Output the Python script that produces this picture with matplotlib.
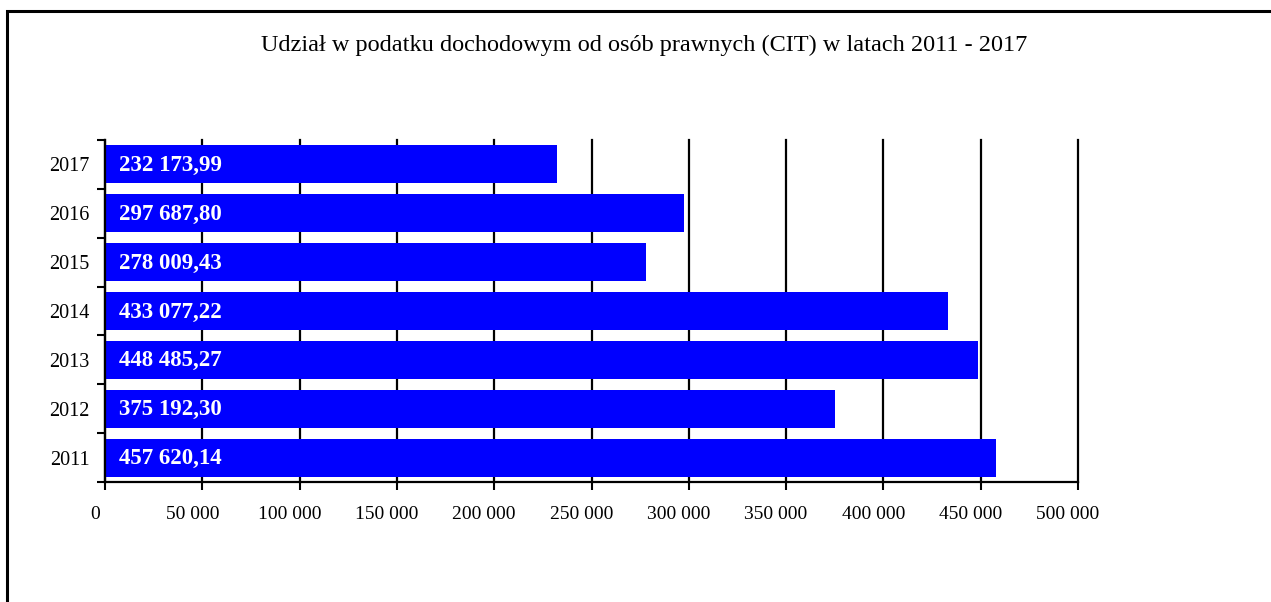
import matplotlib
matplotlib.use("Agg")
import matplotlib.pyplot as plt
import matplotlib.transforms as mtransforms
from matplotlib.patches import Rectangle
from matplotlib.ticker import FuncFormatter, FixedLocator
import numpy as np

years = ["2011", "2012", "2013", "2014", "2015", "2016", "2017"]
values = [457620.14, 375192.30, 448485.27, 433077.22, 278009.43, 297687.80, 232173.99]
value_labels = ["457 620,14", "375 192,30", "448 485,27", "433 077,22",
                "278 009,43", "297 687,80", "232 173,99"]
x_ticks = [0, 50000, 100000, 150000, 200000, 250000, 300000, 350000, 400000, 450000, 500000]
title = "Udział w podatku dochodowym od osób prawnych (CIT) w latach 2011 - 2017"

plt.rcParams['font.family'] = ['Liberation Serif', 'DejaVu Serif']

W, H = 1271, 602
fig = plt.figure(figsize=(W / 100, H / 100), dpi=100)
ax = fig.add_axes([105 / W, 1 - 482 / H, (1078 - 105) / W, (482 - 140) / H])

pos = np.arange(len(years))
ax.barh(pos, values, height=0.78, color="#0000FF", zorder=3)

ax.set_xlim(0, 500000)
ax.set_ylim(-0.5, len(years) - 0.5)

ax.xaxis.set_major_locator(FixedLocator(x_ticks))
ax.xaxis.set_major_formatter(FuncFormatter(lambda v, p: f"{int(v):,}".replace(",", " ")))
ax.grid(axis="x", color="black", linewidth=1.6, zorder=1)
for gl in ax.get_xgridlines():
    gl.set_clip_on(False)
ax.tick_params(axis="x", direction="out", length=6, width=1.5, pad=11, labelsize=14, colors="black")
off = mtransforms.ScaledTranslation(-10 / 100, 0, fig.dpi_scale_trans)
for lab in ax.get_xticklabels():
    lab.set_transform(lab.get_transform() + off)

ax.set_yticks(pos)
ax.set_yticklabels(years)
ax.set_yticks(np.arange(-0.5, len(years), 1.0), minor=True)
ax.tick_params(axis="y", which="major", length=0, pad=11, labelsize=14.5)
ax.tick_params(axis="y", which="minor", direction="out", length=6, width=1.5)

for s in ["top", "right"]:
    ax.spines[s].set_visible(False)
for s in ["left", "bottom"]:
    ax.spines[s].set_linewidth(1.6)
    ax.spines[s].set_zorder(4)

for p, lab in zip(pos, value_labels):
    ax.annotate(lab, xy=(0, p), xytext=(14, -1), textcoords="offset pixels",
                ha="left", va="center", color="white", fontweight="bold",
                fontsize=16.5, zorder=5)

fig.text((258 + 1030) / 2 / W, 1 - 45 / H, title, ha="center", va="center", fontsize=17.5)

fig.patches.append(Rectangle((7 / W, -0.2), 1.5, 1.2 - 10.5 / H, transform=fig.transFigure,
                             fill=False, edgecolor="black", linewidth=2.2, figure=fig))

fig.savefig("out.png", dpi=100)
